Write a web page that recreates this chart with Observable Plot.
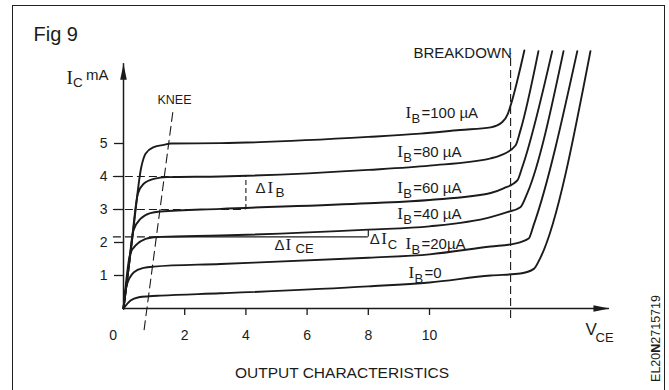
<!DOCTYPE html>
<html>
<head>
<meta charset="utf-8">
<script src="https://cdn.jsdelivr.net/npm/d3@7"></script>
<script src="https://cdn.jsdelivr.net/npm/@observablehq/plot@0.6"></script>
<style>
  html, body { margin: 0; padding: 0; background: #fff; overflow: hidden; }
  #wrap { position: relative; width: 669px; height: 390px; overflow: hidden; }
  #frame { position: absolute; left: 12px; top: 5px; width: 653px; height: 420px;
           border: 1.6px solid #222; box-sizing: border-box; }
  #wrap svg { position: absolute; left: 0; top: 0; }
</style>
</head>
<body>
<div id="wrap"><div id="frame"></div></div>
<script>
// ---------------- data (V_CE in volts, I_C in mA) ----------------
const ibValues = ["100", "80", "60", "40", "20", "0"]; // I_B in µA
const ib100 = [[0,0],[0.29,2.14],[0.58,4.28],[0.72,4.69],[0.99,4.89],[1.32,4.96],[1.54,5.0],[3.17,5.01],[8,5.2],[9.7,5.3],[11,5.41],[12.0,5.49],[12.38,5.65],[12.56,5.9],[12.65,6.15],[13.1,7.82]];
const ib80  = [[0,0],[0.235,1.74],[0.47,3.48],[0.66,3.78],[0.99,3.93],[1.43,3.98],[3.17,4.0],[8,4.2],[10,4.33],[12.0,4.55],[12.32,4.64],[12.81,4.94],[12.97,5.39],[13.56,7.8]];
const ib60  = [[0,0],[0.16,1.18],[0.32,2.36],[0.56,2.72],[0.88,2.89],[1.21,2.94],[3.17,3.02],[8,3.19],[10,3.29],[12.0,3.5],[12.42,3.64],[12.87,3.88],[13.03,4.28],[14.01,7.8]];
const ib40  = [[0,0],[0.22,1.66],[0.45,1.96],[0.72,2.11],[0.99,2.16],[1.21,2.17],[3.17,2.21],[8,2.39],[10,2.49],[12.0,2.77],[12.54,2.92],[12.97,3.07],[13.19,3.48],[14.38,7.8]];
const ib20  = [[0,0],[0.088,0.65],[0.34,1.10],[0.66,1.23],[0.99,1.27],[3.17,1.35],[8,1.54],[10,1.64],[12.0,1.88],[12.75,1.96],[13.24,2.12],[13.4,2.52],[14.83,7.8]];
const ib0   = [[0,0],[0.23,0.24],[0.5,0.34],[0.84,0.37],[1.21,0.39],[3.17,0.46],[8,0.67],[10,0.79],[12.0,1.0],[12.97,1.06],[13.41,1.2],[13.63,1.55],[15.26,7.8]];
const ibCurves = [ib100, ib80, ib60, ib40, ib20, ib0];

const ibLabelRest = ["=100 µA", "=80 µA", "=60 µA", "=40 µA", "=20µA", "=0"];
const ibLabelV = [9.216, 8.944, 8.944, 8.944, 9.216, 9.314];
const ibLabelI = [5.758, 4.585, 3.485, 2.718, 1.818, 0.939];

const xTicks = [2, 4, 6, 8, 10];
const yTicks = [1, 2, 3, 4, 5];
const refLevels = [3, 4];       // ΔI_B reference levels (mA)
const refV = 4;                 // ΔI_B measured at V_CE = 4 V
const iceLevel = 2.17;          // ΔI_CE horizontal
const iceV = 8;                 // ΔI_C measured at V_CE = 8 V
const iceTop = 2.39;
const breakdownV = 12.65;
const kneeLine = [[1.61, 5.94], [0.67, -0.67]];
const xAxisEnd = 15.88;
const yAxisEnd = 7.42;

// ---------------- styling ----------------
const ink = "#1b1b1b";
const SANS = "'Liberation Sans', Arial, Helvetica, sans-serif";
const SERIF = "'Liberation Serif', 'Times New Roman', serif";
const DASH = "8,4";

const curveRows = ibCurves.flatMap((pts, k) => pts.map(([v, i]) => ({ib: ibValues[k], v, i})));
const labelRows = ibValues.map((d, k) => ({v: ibLabelV[k], i: ibLabelI[k], rest: ibLabelRest[k]}));

const arrowHead = {
  draw(context) {
    context.moveTo(0, 0);
    context.lineTo(3.3, 16);
    context.lineTo(-3.3, 16);
    context.closePath();
  }
};

function piece(v, i, text, o = {}) {
  return Plot.text([{v, i}], {
    x: "v", y: "i", text: () => text,
    textAnchor: o.anchor || "start", lineAnchor: o.line || "bottom",
    dx: o.dx || 0, dy: o.dy || 0, rotate: o.rotate || 0,
    fontSize: o.size || 14, fontFamily: o.serif ? SERIF : SANS, fill: ink
  });
}

const plot = Plot.plot({
  width: 669, height: 390,
  marginLeft: 123, marginBottom: 82, marginTop: 0, marginRight: 0,
  x: {domain: [0, 10], range: [123, 429]},
  y: {domain: [0, 5], range: [308, 143]},
  style: {fontFamily: SANS, color: ink, background: "none", overflow: "visible"},
  marks: [
    // reference dashed lines
    Plot.ruleY(refLevels, {y: d => d, x1: -0.33, x2: refV, stroke: ink, strokeWidth: 1.1, strokeDasharray: DASH}),
    Plot.ruleX([refV], {x: d => d, y1: refLevels[0], y2: refLevels[1], stroke: ink, strokeWidth: 1.1, strokeDasharray: "5,3"}),
    Plot.ruleY([iceLevel], {y: d => d, x1: -0.33, x2: 0.9, stroke: ink, strokeWidth: 1.1, strokeDasharray: DASH}),
    Plot.ruleY([iceLevel], {y: d => d, x1: 0.9, x2: iceV, stroke: ink, strokeWidth: 1.2}),
    Plot.ruleX([iceV], {x: d => d, y1: iceLevel, y2: iceTop, stroke: ink, strokeWidth: 1.2}),
    Plot.ruleX([breakdownV], {x: d => d, y1: -0.3, y2: 7.73, stroke: ink, strokeWidth: 1.1, strokeDasharray: DASH}),
    Plot.line(kneeLine, {x: d => d[0], y: d => d[1], stroke: ink, strokeWidth: 1.1, strokeDasharray: "9,5"}),
    // characteristic curves
    Plot.line(curveRows, {x: "v", y: "i", z: "ib", curve: "monotone-x", stroke: ink, strokeWidth: 1.9}),
    // axes
    Plot.ruleY([0], {y: d => d, x1: 0, x2: xAxisEnd, stroke: ink, strokeWidth: 1.5}),
    Plot.ruleX([0], {x: d => d, y1: 0, y2: yAxisEnd, stroke: ink, strokeWidth: 1.5}),
    Plot.dot([{v: xAxisEnd, i: 0}], {x: "v", y: "i", symbol: arrowHead, rotate: 90, fill: ink, stroke: "none"}),
    Plot.dot([{v: 0, i: yAxisEnd}], {x: "v", y: "i", symbol: arrowHead, rotate: 0, fill: ink, stroke: "none"}),
    Plot.axisX(xTicks, {anchor: "bottom", tickSize: 7, tickPadding: 14.5, fontSize: 14, label: null, strokeWidth: 1.3}),
    Plot.axisY(yTicks, {anchor: "left", tickSize: 9, tickPadding: 7, fontSize: 14, label: null, strokeWidth: 1.3}),
    piece(-0.337, 0, "0", {anchor: "middle", line: "top", dy: 21.5, size: 14}),
    // curve labels I_B = ...
    Plot.text(labelRows, {x: "v", y: "i", text: () => "I", fontFamily: SERIF, fontSize: 17, textAnchor: "start", lineAnchor: "bottom", fill: ink}),
    Plot.text(labelRows, {x: "v", y: "i", text: () => "B", dx: 6, dy: 5, fontSize: 13, textAnchor: "start", lineAnchor: "bottom", fill: ink}),
    Plot.text(labelRows, {x: "v", y: "i", text: "rest", dx: 16, fontSize: 15, textAnchor: "start", lineAnchor: "bottom", fill: ink}),
    // annotations
    piece(-2.941, 8.121, "Fig 9", {size: 20}),
    piece(-1.863, 6.818, "I", {serif: true, size: 19}),
    piece(-1.863, 6.818, "C", {dx: 6.5, dy: 3, size: 13.5}),
    piece(-1.863, 6.818, "mA", {dx: 19.5, dy: -4, size: 15}),
    piece(1.111, 6.212, "KNEE", {size: 12.5}),
    piece(9.477, 7.606, "BREAKDOWN", {size: 15}),
    piece(4.314, 3.485, "Δ", {size: 15}),
    piece(4.314, 3.485, "I", {dx: 12, serif: true, size: 17}),
    piece(4.314, 3.485, "B", {dx: 20, dy: 3.5, size: 13.5}),
    piece(4.935, 1.758, "Δ", {size: 15}),
    piece(4.935, 1.758, "I", {dx: 11, serif: true, size: 17}),
    piece(4.935, 1.758, "CE", {dx: 21, dy: 3, size: 13}),
    piece(8.049, 1.961, "Δ", {size: 15}),
    piece(8.049, 1.961, "I", {dx: 11.5, serif: true, size: 17}),
    piece(8.049, 1.961, "C", {dx: 18, dy: 5, size: 13}),
    piece(15.098, -0.818, "V", {size: 17}),
    piece(15.098, -0.818, "CE", {dx: 10, dy: 7, size: 13}),
    piece(7.141, -2.091, "OUTPUT CHARACTERISTICS", {anchor: "middle", size: 15.5}),
    piece(17.386, -0.909, "EL20N2715719", {anchor: "middle", line: "middle", rotate: -90, size: 12.5})
  ]
});

document.getElementById("wrap").appendChild(plot);

// bold "N" in the drawing code, as in the original
d3.select(plot).selectAll("text").filter(function () { return this.textContent === "EL20N2715719"; })
  .each(function () {
    const t = d3.select(this);
    t.text(null);
    t.append("tspan").text("EL20");
    t.append("tspan").attr("font-weight", "bold").text("N");
    t.append("tspan").text("2715719");
  });
</script>
</body>
</html>
